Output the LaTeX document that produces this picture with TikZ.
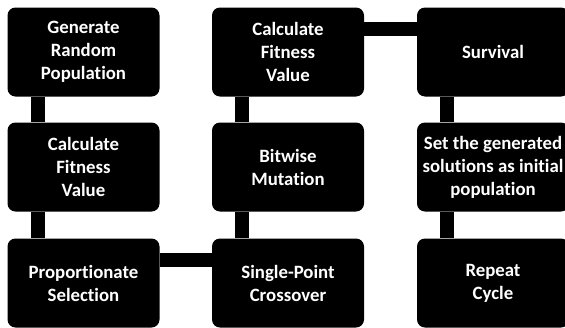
\documentclass[tikz,border=0pt]{standalone}
\usepackage{fontspec}
\setmainfont{Carlito}[Ligatures=NoCommon]
\usepackage{tikz}
\usetikzlibrary{math}
\tikzset{
	stage/.style={
		rectangle, rounded corners=8pt, fill=black,
		text=white, font=\bfseries\fontsize{18.8}{23}\selectfont,
		align=center, inner sep=0pt,
		minimum width=152pt, minimum height=89pt,
	},
	bar/.style={line width=14pt, black},
}
\begin{document}
\begin{tikzpicture}[x=1pt,y=-1pt]
	\useasboundingbox (0,0) rectangle (565,327);
	\clip (0,0) rectangle (565,327);
	\tikzmath{\ColA = 83.5; \ColB = 288; \ColC = 493; \RowA = 52; \RowB = 167; \RowC = 283;}
	\node[stage] (gen) at (\ColA,\RowA) {Generate\\Random\\Population};
	\node[stage] (fitA) at (\ColA,\RowB) {Calculate\\Fitness\\Value};
	\node[stage] (select) at (\ColA,\RowC) {Proportionate\\Selection};
	\node[stage] (fitB) at (\ColB,\RowA) {Calculate\\Fitness\\Value};
	\node[stage] (mutate) at (\ColB,\RowB) {Bitwise\\Mutation};
	\node[stage] (cross) at (\ColB,\RowC) {Single-Point\\Crossover};
	\node[stage] (surv) at (\ColC,\RowA) {Survival};
	\node[stage] (init) at (\ColC,\RowB) {Set the generated\\solutions as initial\\population};
	\node[stage] (repeat) at (\ColC,\RowC) {Repeat\\Cycle};
	
	% links
	\foreach \a/\b in {gen/fitA, fitA/select, fitB/mutate, mutate/cross, surv/init, init/repeat}
		\draw[bar] ([xshift=30.5pt]\a.south west) -- ([xshift=30.5pt]\b.north west);
	\draw[bar] ([yshift=-22pt]fitB.north east) -- ([yshift=-22pt]surv.north west);
	\draw[bar] ([yshift=-22pt]select.north east) -- ([yshift=-22pt]cross.north west);
\end{tikzpicture}
\end{document}
